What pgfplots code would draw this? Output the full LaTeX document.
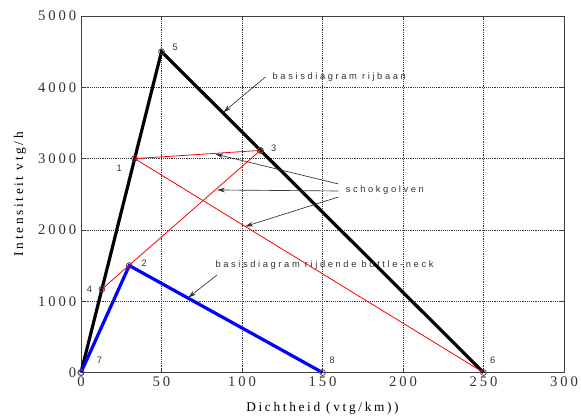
\documentclass[border=0pt]{standalone}
\usepackage{fontspec}
\setmainfont{Liberation Serif}[LetterSpace=20]
\newfontfamily\annfont{Liberation Sans}[LetterSpace=28]
\newfontfamily\numfont{Liberation Sans}
\usepackage{pgfplots}
\pgfplotsset{compat=1.18}
\usetikzlibrary{arrows.meta}

\definecolor{txtgray}{RGB}{50,50,50}

\begin{document}
\begin{tikzpicture}
\begin{axis}[
  name=ax,
  scale only axis,
  width=362.25pt, height=267.4pt,
  xmin=0, xmax=300, ymin=0, ymax=5000,
  xtick={0,50,...,300}, ytick={0,1000,...,5000},
  tick align=inside, tick pos=both,
  major tick length=3pt,
  xmajorgrids, ymajorgrids,
  grid style={densely dotted, black!80, line width=0.5pt},
  axis line style={black!75, line width=0.6pt},
  tick style={black!75},
  scaled ticks=false,
  /pgf/number format/assume math mode=true,
  /pgf/number format/1000 sep={},
  ticklabel style={font=\fontsize{11}{13}\selectfont, text=txtgray},
  xlabel={Dichtheid (vtg/km))},
  ylabel={Intensiteit vtg/h},
  label style={font=\fontsize{11}{13}\selectfont, text=txtgray},
  every axis x label/.style={at={(axis description cs:0.5,-0.0995)}, anchor=center},
  every axis y label/.style={at={(axis description cs:-0.1263,0.5)}, rotate=90, anchor=center},
  clip=false,
]
% basisdiagram rijbaan
\addplot [black, line width=2.4pt, mark=o, mark size=2.2pt, mark options={black!70, line width=0.6pt, solid}]
table {%
0 0
50 4500
250 0
};
% basisdiagram rijdende bottle-neck
\addplot [blue, line width=2.4pt, mark=o, mark size=2.2pt, mark options={black!70, line width=0.6pt, solid}]
table {%
0 0
30 1500
150 0
};
% schokgolven
\addplot [red, line width=0.6pt, mark=o, mark size=2.2pt, mark options={black!70, line width=0.6pt}]
table {%
33.3 3000
111.4 3115
};
\addplot [red, line width=0.6pt]
table {%
33.3 3000
250 0
};
\addplot [red, line width=0.6pt, mark=o, mark size=2.2pt, mark options={black!70, line width=0.6pt}]
table {%
13 1170
111.4 3115
};

% point labels
\begin{scope}[every node/.style={font=\numfont\fontsize{7}{8}\selectfont, text=txtgray, inner sep=0pt}]
\node at (axis cs:23.8,2864) {1};
\node at (axis cs:39.2,1532) {2};
\node at (axis cs:119.7,3144) {3};
\node at (axis cs:5.2,1167) {4};
\node at (axis cs:58.5,4555) {5};
\node at (axis cs:255.8,175) {6};
\node at (axis cs:11.4,166) {7};
\node at (axis cs:156,175) {8};
\end{scope}

% annotations
\begin{scope}[every node/.style={font=\annfont\fontsize{7}{8}\selectfont, text=txtgray, inner sep=0pt, anchor=west},
  ann/.style={draw=black!80, line width=0.5pt, -{Stealth[length=6pt, width=3.5pt]}}]
\node at (axis cs:118.9,4144) {basisdiagram rijbaan};
\draw[ann] (axis cs:114.5,4144) -- (axis cs:88.4,3650);
\node at (axis cs:164.3,2560) {schokgolven};
\draw[ann] (axis cs:159.9,2644) -- (axis cs:83.4,3064);
\draw[ann] (axis cs:159.9,2546) -- (axis cs:84.5,2560);
\draw[ann] (axis cs:159.9,2462) -- (axis cs:102,2049);
\node at (axis cs:83.4,1508) {basisdiagram rijdende bottle-neck};
\draw[ann] (axis cs:84.4,1367) -- (axis cs:66.6,1050);
\end{scope}
\end{axis}
\pgfresetboundingbox
\path (ax.south west) ++(-60.75pt,-32.6pt) coordinate (bl);
\path (ax.north east) ++(12.75pt,12pt) coordinate (tr);
\path (bl) rectangle (tr);
\end{tikzpicture}
\end{document}
